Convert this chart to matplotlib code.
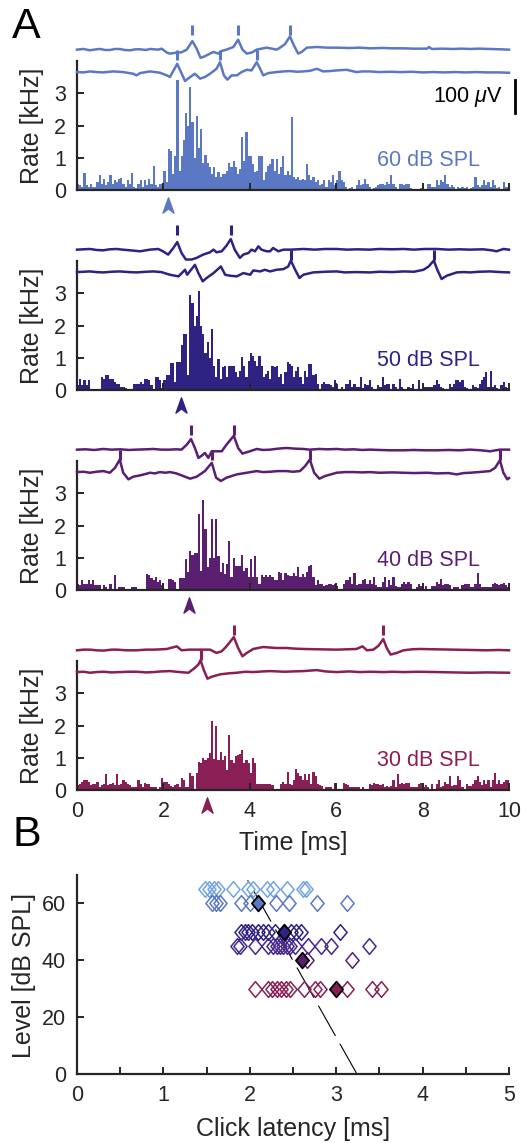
import numpy as np
import matplotlib
matplotlib.use("Agg")
import matplotlib.pyplot as plt
from matplotlib.path import Path

plt.rcParams['font.family'] = ['Liberation Sans', 'DejaVu Sans']
plt.rcParams['mathtext.fontset'] = 'custom'
plt.rcParams['mathtext.rm'] = 'Liberation Sans'
plt.rcParams['mathtext.it'] = 'Liberation Sans:italic'
plt.rcParams['lines.scale_dashes'] = False

# ---------------------------------------------------------------- data
levels = [60, 50, 40, 30]
level_colors = ['#5b78c4', '#2e2383', '#5a1f70', '#8a1f55']
bin_width = 0.05  # ms

rate_60 = [
    0.2, 0.15, 0.1, 0.52, 0.15, 0.1, 0.2, 0.1, 0.1, 0.25,
    0.47, 0.2, 0.33, 0.15, 0.25, 0.47, 0.2, 0.3, 0.25, 0.35,
    0.38, 0.2, 0.1, 0.3, 0.2, 0.52, 0.1, 0.05, 0.2, 0.3,
    0.1, 0.3, 0.15, 0.35, 0.2, 0.75, 0.15, 0.1, 0.2, 0.2,
    0.6, 0.25, 1.28, 1.2, 0.5, 1.05, 3.4, 0.6, 1.05, 1.55,
    2.4, 2.0, 3.2, 2.1, 1.0, 2.3, 1.3, 1.9, 0.85, 1.1,
    0.85, 0.7, 0.5, 0.7, 0.4, 0.55, 0.4, 0.5, 0.5, 0.6,
    0.85, 0.7, 0.9, 0.7, 0.5, 0.65, 1.65, 0.9, 1.8, 1.05,
    1.05, 0.8, 0.55, 0.6, 1.05, 1.05, 0.3, 0.55, 0.75, 0.8,
    0.95, 0.6, 0.95, 0.5, 0.7, 1.05, 0.45, 0.6, 0.45, 2.25,
    0.4, 0.35, 0.4, 0.3, 0.35, 0.3, 0.8, 0.45, 0.3, 0.4,
    0.25, 0.3, 0.15, 0.2, 0.3, 0.1, 0.3, 0.25, 0.45, 0.15,
    0.3, 0.6, 0.3, 0.25, 0.1, 0.0, 0.05, 0.1, 0.0, 0.15,
    0.3, 0.15, 0.2, 0.35, 0.2, 0.1, 0.0, 0.05, 0.1, 0.15,
    0.2, 0.2, 0.15, 0.25, 0.2, 0.45, 0.2, 0.1, 0.0, 0.2,
    0.2, 0.15, 0.2, 0.2, 0.05, 0.0, 0.0, 0.0, 0.0, 0.05,
    0.0, 0.0, 0.2, 0.2, 0.1, 0.1, 0.3, 0.15, 0.3, 0.25,
    0.45, 0.2, 0.1, 0.15, 0.1, 0.0, 0.1, 0.05, 0.1, 0.05,
    0.1, 0.0, 0.05, 0.1, 0.4, 0.15, 0.1, 0.15, 0.3, 0.15,
    0.25, 0.1, 0.3, 0.15, 0.05, 0.1, 0.0, 0.25, 0.1, 0.1,
]

rate_50 = [
    0.15, 0.35, 0.15, 0.3, 0.15, 0.3, 0.0, 0.0, 0.0, 0.0,
    0.0, 0.4, 0.35, 0.45, 0.45, 0.35, 0.35, 0.25, 0.2, 0.2,
    0.1, 0.1, 0.05, 0.0, 0.0, 0.0, 0.2, 0.2, 0.2, 0.25,
    0.2, 0.35, 0.35, 0.3, 0.15, 0.0, 0.4, 0.4, 0.3, 0.05,
    0.3, 0.45, 0.45, 0.85, 0.85, 0.25, 0.87, 0.87, 1.4, 1.75,
    1.75, 0.45, 2.95, 2.7, 2.0, 2.3, 3.08, 2.0, 1.75, 1.15,
    1.5, 1.0, 1.9, 0.75, 0.4, 0.95, 0.35, 0.7, 0.75, 0.4,
    0.75, 0.75, 0.75, 0.55, 0.4, 0.6, 1.02, 0.75, 0.4, 0.9,
    1.15, 1.05, 0.9, 0.75, 1.05, 0.75, 0.4, 0.5, 0.6, 0.35,
    0.75, 0.7, 0.75, 0.4, 0.5, 0.2, 0.55, 0.87, 0.8, 0.75,
    0.4, 0.6, 0.7, 0.4, 0.2, 0.6, 0.4, 0.82, 0.8, 0.45,
    0.5, 0.2, 0.0, 0.2, 0.25, 0.2, 0.2, 0.15, 0.1, 0.3,
    0.2, 0.0, 0.1, 0.0, 0.2, 0.2, 0.3, 0.1, 0.2, 0.1,
    0.1, 0.4, 0.05, 0.2, 0.15, 0.3, 0.1, 0.0, 0.0, 0.15,
    0.1, 0.4, 0.15, 0.2, 0.2, 0.0, 0.2, 0.1, 0.0, 0.35,
    0.1, 0.0, 0.0, 0.1, 0.05, 0.2, 0.0, 0.0, 0.3, 0.0,
    0.1, 0.1, 0.1, 0.1, 0.1, 0.15, 0.3, 0.2, 0.1, 0.05,
    0.0, 0.0, 0.2, 0.1, 0.2, 0.3, 0.3, 0.25, 0.3, 0.1,
    0.05, 0.0, 0.0, 0.15, 0.1, 0.05, 0.2, 0.3, 0.4, 0.55,
    0.1, 0.58, 0.1, 0.15, 0.05, 0.0, 0.15, 0.25, 0.1, 0.05,
]

rate_40 = [
    0.2, 0.15, 0.3, 0.2, 0.2, 0.3, 0.2, 0.3, 0.15, 0.15,
    0.15, 0.0, 0.15, 0.1, 0.0, 0.18, 0.0, 0.47, 0.0, 0.1,
    0.1, 0.1, 0.0, 0.0, 0.0, 0.1, 0.1, 0.1, 0.0, 0.0,
    0.0, 0.0, 0.5, 0.47, 0.37, 0.3, 0.4, 0.25, 0.3, 0.15,
    0.0, 0.0, 0.33, 0.35, 0.3, 0.25, 0.0, 0.37, 0.37, 0.37,
    0.95, 0.55, 1.2, 1.1, 1.15, 1.15, 2.35, 0.6, 2.8, 1.9,
    0.7, 1.0, 2.2, 1.0, 2.2, 1.05, 0.55, 0.85, 0.5, 0.8,
    1.53, 0.4, 1.0, 0.75, 0.75, 0.75, 1.07, 0.6, 0.68, 0.4,
    0.95, 0.4, 1.06, 0.4, 0.2, 0.47, 0.4, 0.47, 0.4, 0.47,
    0.4, 0.3, 0.3, 0.57, 0.52, 0.3, 0.52, 0.47, 0.42, 0.42,
    0.52, 0.42, 0.72, 0.4, 0.5, 0.4, 0.57, 0.75, 0.79, 0.4,
    0.15, 0.3, 0.2, 0.18, 0.13, 0.15, 0.2, 0.2, 0.15, 0.2,
    0.13, 0.0, 0.0, 0.2, 0.3, 0.3, 0.4, 0.2, 0.52, 0.15,
    0.2, 0.18, 0.3, 0.33, 0.2, 0.3, 0.2, 0.4, 0.15, 0.1,
    0.1, 0.25, 0.4, 0.1, 0.3, 0.15, 0.4, 0.12, 0.1, 0.1,
    0.2, 0.24, 0.2, 0.26, 0.2, 0.0, 0.0, 0.1, 0.2, 0.12,
    0.0, 0.12, 0.0, 0.0, 0.12, 0.12, 0.26, 0.2, 0.33, 0.15,
    0.2, 0.18, 0.15, 0.0, 0.1, 0.1, 0.1, 0.0, 0.15, 0.2,
    0.2, 0.2, 0.1, 0.1, 0.2, 0.52, 0.2, 0.1, 0.1, 0.1,
    0.1, 0.1, 0.2, 0.23, 0.2, 0.15, 0.2, 0.23, 0.15, 0.1,
]

rate_30 = [
    0.15, 0.2, 0.25, 0.3, 0.3, 0.25, 0.15, 0.2, 0.2, 0.25,
    0.1, 0.15, 0.2, 0.5, 0.15, 0.2, 0.22, 0.15, 0.5, 0.15,
    0.2, 0.3, 0.25, 0.2, 0.15, 0.1, 0.1, 0.1, 0.3, 0.2,
    0.1, 0.22, 0.18, 0.2, 0.1, 0.1, 0.1, 0.0, 0.1, 0.37,
    0.26, 0.26, 0.2, 0.12, 0.1, 0.15, 0.2, 0.1, 0.37, 0.3,
    0.1, 0.1, 0.52, 0.42, 0.0, 0.52, 0.88, 0.83, 1.0, 0.94,
    1.0, 1.15, 2.13, 0.95, 2.0, 0.94, 1.17, 0.94, 1.05, 0.63,
    1.72, 0.94, 0.83, 1.05, 1.1, 1.12, 1.25, 0.83, 0.94, 0.83,
    0.52, 1.0, 0.83, 0.2, 0.2, 0.2, 0.2, 0.18, 0.18, 0.18,
    0.15, 0.0, 0.0, 0.0, 0.2, 0.26, 0.2, 0.57, 0.2, 0.15,
    0.3, 0.65, 0.54, 0.42, 0.3, 0.5, 0.3, 0.5, 0.2, 0.57,
    0.42, 0.2, 0.15, 0.12, 0.0, 0.1, 0.1, 0.1, 0.0, 0.23,
    0.0, 0.0, 0.0, 0.23, 0.2, 0.15, 0.1, 0.1, 0.1, 0.1,
    0.1, 0.0, 0.1, 0.0, 0.0, 0.2, 0.15, 0.23, 0.18, 0.2,
    0.15, 0.2, 0.1, 0.12, 0.1, 0.12, 0.3, 0.1, 0.5, 0.2,
    0.23, 0.2, 0.23, 0.23, 0.1, 0.1, 0.1, 0.1, 0.2, 0.23,
    0.1, 0.15, 0.1, 0.0, 0.2, 0.0, 0.2, 0.3, 0.1, 0.12,
    0.26, 0.2, 0.42, 0.12, 0.15, 0.15, 0.42, 0.3, 0.1, 0.0,
    0.2, 0.12, 0.13, 0.2, 0.3, 0.42, 0.26, 0.15, 0.3, 0.2,
    0.3, 0.1, 0.3, 0.52, 0.2, 0.3, 0.2, 0.26, 0.3, 0.3,
]
rates = [rate_60, rate_50, rate_40, rate_30]

# example recordings: (time [ms], voltage [uV]) for two sweeps per level
upper_60 = [(0, 0), (0.15, 2), (0.30, -2), (0.45, 1), (0.53, 2), (0.65, -1), (0.76, -1),
            (0.88, 2), (0.99, 2), (1.1, -1), (1.23, -2), (1.35, 1), (1.46, 1), (1.6, -1),
            (1.69, 2), (1.88, 0), (1.96, 3), (2.08, -9), (2.15, -12), (2.31, -9), (2.42, -8),
            (2.54, 0), (2.67, 26), (2.77, 3), (2.86, -25), (2.96, -20), (3.08, -12),
            (3.16, -7), (3.27, -12), (3.35, -4), (3.46, 0), (3.62, 8), (3.73, 30),
            (3.83, 0), (3.93, -12), (4.04, -9), (4.16, 0), (4.27, 3), (4.39, 6), (4.51, 3),
            (4.62, 0), (4.70, 6), (4.81, 16), (4.93, 40), (5.02, 13), (5.12, -12),
            (5.20, -7), (5.32, 6), (5.55, 8), (5.8, 6), (6.01, 6), (6.3, 5), (6.55, 6),
            (6.78, 4), (7.1, 5), (7.3, 4), (7.56, 4), (7.8, 3), (8.10, 3), (8.15, 8),
            (8.21, 2), (8.45, 3), (8.71, 2), (8.9, 3), (9.10, 2), (9.3, 3), (9.56, 2),
            (9.8, 1), (10.0, 0)]
lower_60 = [(0, 0), (0.15, -1), (0.30, 2), (0.45, 0), (0.61, -1), (0.75, 1), (0.84, 2),
            (1.07, 0), (1.30, -5), (1.38, -10), (1.46, -3), (1.69, 2), (1.92, -2),
            (2.08, -10), (2.15, -15), (2.32, 25), (2.50, -27), (2.62, -15), (2.73, -5),
            (2.85, -20), (2.96, -15), (3.08, -5), (3.23, 10), (3.31, 30), (3.40, -10),
            (3.48, -23), (3.58, -10), (3.70, -10), (3.81, 0), (3.93, 7), (4.04, 5),
            (4.16, 30), (4.24, 10), (4.31, -10), (4.43, -3), (4.62, 0), (4.78, 2),
            (4.93, 3), (5.1, 1), (5.24, 2), (5.40, 4), (5.55, 10), (5.70, 2), (5.85, 3),
            (6.01, 5), (6.24, 7), (6.47, 0), (6.6, 2), (6.78, 2), (7.0, 0), (7.25, 1),
            (7.5, 0), (7.75, 1), (8.0, -1), (8.25, 0), (8.5, -1), (8.75, 0), (9.0, -1),
            (9.25, 0), (9.5, -1), (9.75, -1), (10, -2)]

upper_50 = [(0, 0), (0.15, 1), (0.30, 2), (0.45, -1), (0.61, -2), (0.75, 1), (0.92, 2),
            (1.05, 0), (1.23, -2), (1.46, -5), (1.69, 0), (1.88, 2), (1.99, -5),
            (2.11, -15), (2.23, 5), (2.32, 23), (2.42, -10), (2.52, -30), (2.65, -30),
            (2.77, -25), (2.92, -15), (3.08, -8), (3.16, 0), (3.23, -8), (3.35, -5),
            (3.46, 12), (3.56, 32), (3.65, 0), (3.77, -25), (3.85, -15), (3.97, -10),
            (4.04, 0), (4.12, -5), (4.20, 10), (4.27, 0), (4.39, -5), (4.47, -5),
            (4.54, 5), (4.66, -5), (4.78, 0), (4.95, 0), (5.1, 1), (5.24, 2), (5.5, 0),
            (5.75, 2), (6.01, 2), (6.25, 0), (6.5, 1), (6.78, 0), (7.0, 2), (7.3, 1),
            (7.56, 2), (7.8, 0), (8.05, 2), (8.33, 2), (8.6, 0), (8.85, 1), (9.10, 0),
            (9.4, 1), (9.6, -2), (9.71, -5), (9.87, 2), (10, 0)]
lower_50 = [(0, 0), (0.15, 1), (0.30, 2), (0.45, 0), (0.61, -1), (0.8, 1), (0.99, 2),
            (1.2, 0), (1.38, -1), (1.6, 1), (1.77, 2), (1.95, 0), (2.15, -8), (2.35, -13),
            (2.50, 7), (2.55, -8), (2.73, 22), (2.81, -3), (2.91, -28), (3.00, -18),
            (3.16, -3), (3.33, 17), (3.43, -8), (3.54, -11), (3.70, -13), (3.85, -3),
            (4.01, -8), (4.08, 5), (4.24, 2), (4.35, 7), (4.47, 2), (4.62, 7), (4.78, 9),
            (4.89, 17), (4.95, 35), (5.05, 7), (5.15, -18), (5.24, -8), (5.47, -1),
            (5.75, 1), (6.01, 2), (6.2, -1), (6.45, 0), (6.78, -1), (7.0, 1), (7.3, 0),
            (7.56, 2), (7.8, 1), (8.02, 7), (8.14, 17), (8.26, 35), (8.34, 7),
            (8.44, -21), (8.56, -11), (8.79, -1), (8.95, 0), (9.10, -1), (9.3, 1),
            (9.56, 2), (9.8, 0), (10, -1)]

upper_40 = [(0, 0), (0.2, 1), (0.4, -1), (0.61, 2), (0.8, 0), (1.0, 1), (1.2, -1),
            (1.38, 0), (1.6, 1), (1.77, 2), (1.95, 0), (2.15, 0), (2.3, 1), (2.42, 0),
            (2.54, 15), (2.64, 32), (2.73, 5), (2.81, -25), (2.89, -18), (2.96, -10),
            (3.04, -25), (3.12, -5), (3.23, -5), (3.35, -5), (3.46, 15), (3.63, 42),
            (3.73, 5), (3.83, -12), (4.00, -5), (4.16, 2), (4.3, -1), (4.47, 0),
            (4.65, 3), (4.85, 5), (5.05, 3), (5.24, 2), (5.39, 0), (5.6, 2), (5.8, 1),
            (6.01, 2), (6.2, 0), (6.4, 1), (6.6, -1), (6.78, 0), (7.0, -1), (7.25, -2),
            (7.56, -2), (7.8, -1), (8.05, -2), (8.33, -2), (8.6, -1), (8.85, -2),
            (9.10, 0), (9.35, -2), (9.56, -5), (9.79, 0), (10, 0)]
lower_40 = [(0, 0), (0.15, 1), (0.30, -2), (0.45, 1), (0.61, 3), (0.76, -2), (0.88, 13),
            (0.99, 38), (1.07, -2), (1.19, -22), (1.30, -14), (1.46, -10), (1.58, -6),
            (1.69, -2), (1.8, -4), (1.92, 0), (2.05, -2), (2.15, 0), (2.3, -4),
            (2.46, -12), (2.62, -20), (2.77, -14), (2.85, -7), (2.96, 3), (3.12, 28),
            (3.22, -17), (3.33, -27), (3.46, -17), (3.70, -7), (3.93, -2), (4.16, 3),
            (4.3, 0), (4.47, 1), (4.65, 3), (4.85, 3), (5.0, 1), (5.16, 3), (5.28, 18),
            (5.39, 38), (5.49, -2), (5.61, -20), (5.74, -12), (6.01, -2), (6.2, 0),
            (6.40, 0), (6.6, -1), (6.78, 0), (7.0, -2), (7.3, -1), (7.56, -2), (7.8, -3),
            (8.1, -2), (8.33, -4), (8.6, -3), (8.79, -7), (8.95, -3), (9.10, -2),
            (9.3, 0), (9.56, 3), (9.68, 13), (9.79, 36), (9.87, -2), (9.96, -22),
            (10.0, -18)]

upper_30 = [(0, -2), (0.15, 0), (0.30, 0), (0.45, -2), (0.61, -3), (0.8, 0), (0.92, 0),
            (1.15, -2), (1.38, -2), (1.6, 0), (1.77, 0), (1.95, 1), (2.08, 2), (2.31, 10),
            (2.42, -2), (2.6, 0), (2.77, 0), (3.08, 0), (3.23, -10), (3.35, -5),
            (3.46, 10), (3.63, 38), (3.73, 5), (3.83, -20), (3.93, -10), (4.08, 2),
            (4.31, 8), (4.6, 5), (4.85, 5), (5.05, 3), (5.24, 2), (5.6, 1), (6.01, 0),
            (6.25, 1), (6.47, 2), (6.61, 10), (6.71, -2), (6.86, 0), (6.98, 12),
            (7.09, 32), (7.17, 5), (7.26, -15), (7.40, -10), (7.56, -2), (7.75, 1),
            (7.94, 2), (8.3, 1), (8.71, 0), (9.1, -1), (9.48, -2), (9.75, -1), (10, -2)]
lower_30 = [(0, 0), (0.15, 1), (0.30, -2), (0.45, 0), (0.61, 1), (0.8, -1), (0.99, 0),
            (1.2, 1), (1.38, 1), (1.6, -1), (1.77, 0), (1.95, 2), (2.15, 3), (2.38, 0),
            (2.58, -2), (2.73, 13), (2.81, 23), (2.86, 36), (2.93, 8), (3.02, -20),
            (3.12, -14), (3.31, -7), (3.5, -4), (3.70, -2), (3.9, 1), (4.08, 0),
            (4.3, 2), (4.47, 3), (4.8, 1), (5.0, 2), (5.24, 3), (5.55, 6), (5.75, 2),
            (6.01, 0), (6.3, 2), (6.55, 0), (6.78, 1), (7.1, 0), (7.3, 1), (7.56, 0),
            (7.9, 1), (8.33, 0), (8.7, -1), (9.10, -2), (9.5, -1), (10, -2)]

upper_traces = [upper_60, upper_50, upper_40, upper_30]
lower_traces = [lower_60, lower_50, lower_40, lower_30]

# detected spike times in each sweep [ms]
upper_spikes = [[2.67, 3.73, 4.93], [2.32, 3.56], [2.64, 3.63], [3.63, 7.09]]
lower_spikes = [[2.32, 3.31, 4.16], [4.95, 8.26], [0.99, 3.12, 5.39, 9.79], [2.86]]

# first-click latency per level [ms]
click_latency = [2.1, 2.4, 2.6, 3.0]

# panel B: click latencies of individual units
unit_levels = [65, 60, 50, 45, 40, 30]
unit_colors = ['#72a5e0', '#5b78c4', '#2e2383', '#47278f', '#5a1f70', '#8a1f55']
unit_latencies = [
    [1.48, 1.53, 1.58, 1.63, 1.80, 1.98, 2.04, 2.20, 2.27, 2.43, 2.61, 2.65],
    [1.56, 1.61, 1.66, 1.90, 2.00, 2.30, 2.45, 2.78, 3.13],
    [1.90, 1.94, 1.98, 2.02, 2.10, 2.15, 2.21, 2.29, 2.48, 2.53, 2.59, 3.04],
    [1.85, 1.89, 2.06, 2.21, 2.27, 2.31, 2.35, 2.39, 2.43, 2.47, 2.52, 2.67,
     2.82, 2.94, 3.38],
    [2.66, 3.18],
    [2.06, 2.21, 2.26, 2.31, 2.36, 2.42, 2.46, 2.63, 2.76, 2.81, 3.13, 3.42, 3.52],
]
# linear fit of latency against level
fit_intercept = 3.24   # ms at 0 dB SPL
fit_slope = -0.0186    # ms per dB
fit_level_range = [0, 68]

# ---------------------------------------------------------------- layout
W, H = 530, 1143
fig = plt.figure(figsize=(W / 100, H / 100), dpi=100)
ink = '#262626'
tick_fs = 15.5
label_fs = 18


def axes_px(left, top, width, height):
    return fig.add_axes([left / W, 1 - (top + height) / H, width / W, height / H])


def style_axes(ax):
    for side in ('top', 'right'):
        ax.spines[side].set_visible(False)
    for side in ('left', 'bottom'):
        ax.spines[side].set_linewidth(1.6)
        ax.spines[side].set_color(ink)
    ax.tick_params(direction='in', length=5, width=1.4, colors=ink,
                   labelsize=tick_fs, labelcolor=ink)
    ax.tick_params(axis='x', pad=8)
    ax.tick_params(axis='y', pad=8)


arrow_marker = Path([(0, 0.5), (-0.36, -0.5), (0, -0.22), (0.36, -0.5), (0, 0.5)],
                    [Path.MOVETO, Path.LINETO, Path.LINETO, Path.LINETO, Path.CLOSEPOLY])
diamond_marker = Path([(0, 0.5), (0.42, 0), (0, -0.5), (-0.42, 0), (0, 0.5)],
                      [Path.MOVETO, Path.LINETO, Path.LINETO, Path.LINETO, Path.CLOSEPOLY])

left_px, width_px = 77, 432
px_per_khz = 32.25
px_per_uv = 0.33
hist_base = [190, 390, 590, 790]
bin_centers = np.arange(len(rate_60)) * bin_width + bin_width / 2

for k, (lvl, col) in enumerate(zip(levels, level_colors)):
    y0 = hist_base[k]
    ax = axes_px(left_px, y0 - 4 * px_per_khz, width_px, 4 * px_per_khz)
    ax.bar(bin_centers, rates[k], width=bin_width, color=col, linewidth=0)
    ax.set_xlim(0, 10)
    ax.set_ylim(0, 4)
    ax.set_yticks([0, 1, 2, 3])
    ax.set_xticks([0, 2, 4, 6, 8, 10])
    style_axes(ax)
    if k < 3:
        ax.set_xticklabels([])
    ax.text(9.33, 0.93, f'{lvl} dB SPL', color=col, fontsize=tick_fs,
            ha='right', va='center')
    ax.plot([click_latency[k]], [-0.45], marker=arrow_marker, markersize=11,
            color=col, linestyle='none', clip_on=False)
    fig.text(32 / W, 1 - (y0 - 64) / H, 'Rate [kHz]', rotation=90,
             ha='center', va='center', fontsize=label_fs, color=ink)

    # example sweeps above the histogram
    tr_h = 80
    tx = axes_px(left_px, y0 - 110 - tr_h, width_px, tr_h)
    tx.set_xlim(0, 10)
    tx.set_ylim(-24, -24 + tr_h / px_per_uv)
    tx.axis('off')
    up_off = 68
    ut, uv = zip(*upper_traces[k])
    lt, lv = zip(*lower_traces[k])
    tx.plot(ut, np.array(uv) + up_off, color=col, lw=1.8, clip_on=False,
            solid_joinstyle='round')
    tx.plot(lt, lv, color=col, lw=1.8, clip_on=False, solid_joinstyle='round')
    tx.vlines(upper_spikes[k], up_off + 44, up_off + 75, color=col, lw=2.2)
    tx.vlines(lower_spikes[k], 36, 66, color=col, lw=2.2)
    if k == 0:
        tx.plot([10.14, 10.14], [-24, -124], color='black', lw=2.0, clip_on=False)
        tx.text(9.86, -76, r'100 $\mu$V', fontsize=tick_fs, ha='right', va='center',
                color='black')

fig.text(293 / W, 1 - 843 / H, 'Time [ms]', ha='center', va='center',
         fontsize=label_fs, color=ink)
fig.text(12 / W, 1 - 27 / H, 'A', fontsize=31, ha='left', va='center')
fig.text(12 / W, 1 - 835 / H, 'B', fontsize=31, ha='left', va='center')

# ---------------------------------------------------------------- panel B
bx = axes_px(left_px, 874.5, width_px, 199.5)
bx.set_xlim(0, 5)
bx.set_ylim(0, 70)
fit_lat = [fit_intercept + fit_slope * L for L in fit_level_range]
fit_line, = bx.plot(fit_lat, fit_level_range, color='black', lw=0.8, zorder=1)
fit_line.set_dashes((25, 6.5))
for lvl, col, lats in zip(unit_levels, unit_colors, unit_latencies):
    bx.plot(lats, [lvl] * len(lats), linestyle='none', marker=diamond_marker,
            markersize=11.3, markerfacecolor='none', markeredgecolor=col,
            markeredgewidth=1.1, zorder=2)
for lvl, col, lat in zip(levels, level_colors, click_latency):
    bx.plot([lat], [lvl], linestyle='none', marker=diamond_marker, markersize=11.3,
            markerfacecolor=col, markeredgecolor='black', markeredgewidth=1.3,
            zorder=3)
bx.set_xticks(np.arange(0, 5.01, 0.5))
bx.set_xticklabels(['0', '', '1', '', '2', '', '3', '', '4', '', '5'])
bx.set_yticks([0, 20, 40, 60])
style_axes(bx)
fig.text(24 / W, 1 - 975 / H, 'Level [dB SPL]', rotation=90, ha='center',
         va='center', fontsize=label_fs, color=ink)
fig.text(293 / W, 1 - 1129 / H, 'Click latency [ms]', ha='center', va='center',
         fontsize=label_fs, color=ink)

fig.savefig('out.png', dpi=100)
